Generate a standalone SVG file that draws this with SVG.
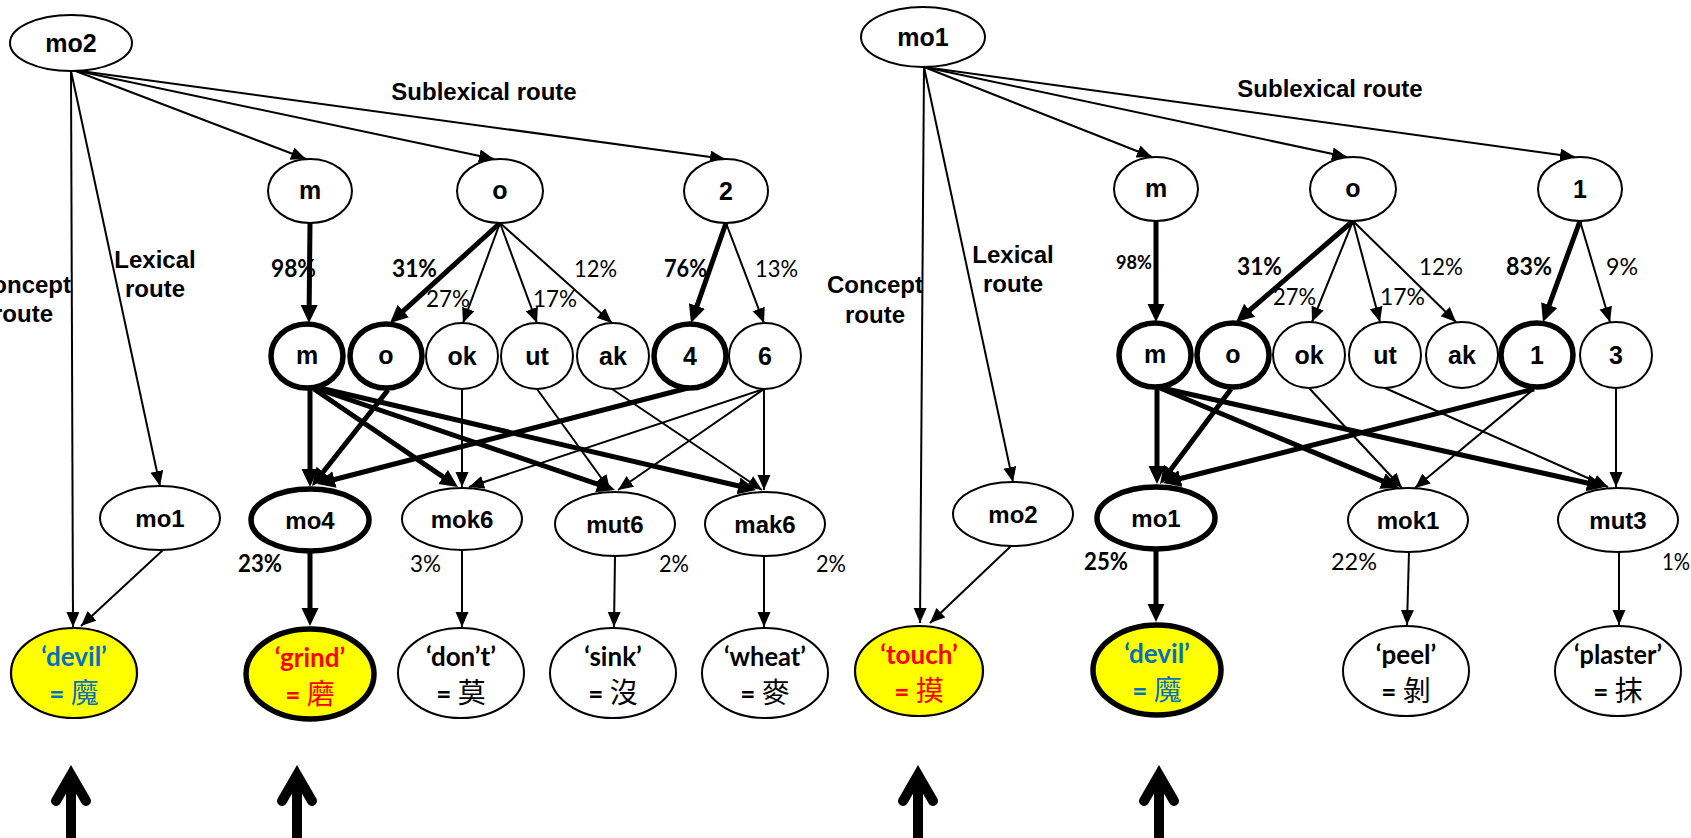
<svg xmlns="http://www.w3.org/2000/svg" width="1691" height="838" viewBox="0 0 1691 838">
<style>
.n{fill:#fff;stroke:#000;stroke-width:2}
.nt{fill:#fff;stroke:#000;stroke-width:5.5}
.y{fill:#ffff00;stroke:#000;stroke-width:2.2}
.yt{fill:#ffff00;stroke:#000;stroke-width:5.5}
.lb{font-family:"Liberation Sans",Arial,sans-serif;font-weight:bold;font-size:25px;text-anchor:middle;fill:#000}
.lb3{font-size:24px}
.rl{font-family:"Liberation Sans",Arial,sans-serif;font-weight:bold;font-size:24px;text-anchor:middle;fill:#000}
.p{font-family:Lato,"Open Sans",sans-serif;font-size:24px;fill:#000}
.pb{font-family:Lato,"Open Sans",sans-serif;font-size:24px;font-weight:bold;fill:#000}
.w{font-family:Lato,"Noto Sans CJK TC",sans-serif;font-weight:bold;font-size:26px;text-anchor:middle;fill:#000}
.c{font-family:"Noto Sans CJK TC",sans-serif;font-size:28px;font-weight:normal}
.blue{fill:#0070C0}
.red{fill:#FF0000}
.thin{stroke:#000;stroke-width:2;fill:none;marker-end:url(#a)}
.thick{stroke:#000;stroke-width:5;fill:none;marker-end:url(#b)}
.big{stroke:#000;stroke-width:10;fill:none;stroke-linecap:round;stroke-linejoin:miter}
</style>
<defs>
<marker id="a" markerUnits="userSpaceOnUse" markerWidth="16" markerHeight="14" refX="15" refY="6.5" orient="auto">
<path d="M0,0 L15,6.5 L0,13 z" fill="#000"/>
</marker>
<marker id="b" markerUnits="userSpaceOnUse" markerWidth="19" markerHeight="18" refX="8" refY="8.5" orient="auto">
<path d="M0,0 L18,8.5 L0,17 z" fill="#000"/>
</marker>
</defs>
<rect width="1691" height="838" fill="#fff"/>

<g id="connectors">
<!-- left panel -->
<path class="thin" d="M73,70 L306,159"/>
<path class="thin" d="M73,70 L494,159"/>
<path class="thin" d="M73,70 L725,159"/>
<path class="thin" d="M71,71 L73,627"/>
<path class="thin" d="M71,71 L160,486"/>
<path class="thick" d="M310,223 L309.1,313"/>
<path class="thick" d="M500,223 L397.4,316.3"/>
<path class="thin" d="M500,223 L463,323"/>
<path class="thin" d="M500,223 L537,323"/>
<path class="thin" d="M500,223 L612,323"/>
<path class="thick" d="M726,223 L694.3,313.6"/>
<path class="thin" d="M726,223 L764,323"/>
<path class="thick" d="M310,389 L310,477"/>
<path class="thick" d="M314,389 L449.7,481.4"/>
<path class="thick" d="M318,389 L605.5,486.8"/>
<path class="thick" d="M320,388 L746.3,487.7"/>
<path class="thick" d="M388,390 L318.2,478.2"/>
<path class="thin" d="M462,389 L462,487"/>
<path class="thin" d="M537,389 L610,490"/>
<path class="thin" d="M612,389 L762,490"/>
<path class="thick" d="M688,388 L326.7,481.5"/>
<path class="thin" d="M764,389 L469,487"/>
<path class="thin" d="M764,389 L618,490"/>
<path class="thin" d="M764,389 L764,490"/>
<path class="thin" d="M163,550 L81,626"/>
<path class="thick" d="M310,553 L310,616"/>
<path class="thin" d="M462,550 L462,627"/>
<path class="thin" d="M615,556 L614,627"/>
<path class="thin" d="M764,556 L764,627"/>
<!-- right panel -->
<path class="thin" d="M924,67 L1152,157"/>
<path class="thin" d="M924,67 L1347,157"/>
<path class="thin" d="M924,67 L1575,157"/>
<path class="thin" d="M924,67 L920,623"/>
<path class="thin" d="M924,67 L1013,482"/>
<path class="thick" d="M1156,221 L1156,312"/>
<path class="thick" d="M1353,221 L1243.6,315.5"/>
<path class="thin" d="M1353,221 L1312,322"/>
<path class="thin" d="M1353,221 L1380,322"/>
<path class="thin" d="M1353,221 L1456,322"/>
<path class="thick" d="M1580,221 L1546.4,312.6"/>
<path class="thin" d="M1580,221 L1610,322"/>
<path class="thick" d="M1157,388 L1157,474"/>
<path class="thick" d="M1160,388 L1389.8,484.1"/>
<path class="thick" d="M1162,388 L1595.2,484.8"/>
<path class="thick" d="M1231,389 L1166,476"/>
<path class="thin" d="M1309,388 L1402,488"/>
<path class="thin" d="M1385,388 L1608,487"/>
<path class="thick" d="M1534,389 L1172.7,480.5"/>
<path class="thin" d="M1534,389 L1415,488"/>
<path class="thin" d="M1616,388 L1616,487"/>
<path class="thin" d="M1011,546 L930,623"/>
<path class="thick" d="M1156,551 L1156,612"/>
<path class="thin" d="M1409,552 L1407,625"/>
<path class="thin" d="M1619,552 L1619,625"/>
</g>

<g id="labels">
<text class="rl" x="484" y="100">Sublexical route</text>
<text class="rl" x="155" y="268">Lexical</text>
<text class="rl" x="155" y="297">route</text>
<text class="rl" x="23" y="293">Concept</text>
<text class="rl" x="23" y="322">route</text>
<text class="rl" x="1330" y="97">Sublexical route</text>
<text class="rl" x="1013" y="263">Lexical</text>
<text class="rl" x="1013" y="292">route</text>
<text class="rl" x="875" y="293">Concept</text>
<text class="rl" x="875" y="323">route</text>
<text class="pb" x="271" y="277" textLength="45" lengthAdjust="spacingAndGlyphs">98%</text>
<text class="pb" x="392" y="277" textLength="45" lengthAdjust="spacingAndGlyphs">31%</text>
<text class="p" x="426" y="307" textLength="44" lengthAdjust="spacingAndGlyphs">27%</text>
<text class="p" x="533" y="307" textLength="44" lengthAdjust="spacingAndGlyphs">17%</text>
<text class="p" x="574" y="277" textLength="43" lengthAdjust="spacingAndGlyphs">12%</text>
<text class="pb" x="664" y="277" textLength="43" lengthAdjust="spacingAndGlyphs">76%</text>
<text class="p" x="755" y="277" textLength="43" lengthAdjust="spacingAndGlyphs">13%</text>
<text class="pb" x="238" y="572" textLength="44" lengthAdjust="spacingAndGlyphs">23%</text>
<text class="p" x="410" y="572" textLength="31" lengthAdjust="spacingAndGlyphs">3%</text>
<text class="p" x="659" y="572" textLength="30" lengthAdjust="spacingAndGlyphs">2%</text>
<text class="p" x="816" y="572" textLength="30" lengthAdjust="spacingAndGlyphs">2%</text>
<text class="pb" x="1116" y="269" style="font-size:19px" textLength="36" lengthAdjust="spacingAndGlyphs">98%</text>
<text class="pb" x="1237" y="275" textLength="45" lengthAdjust="spacingAndGlyphs">31%</text>
<text class="p" x="1273" y="305" textLength="43" lengthAdjust="spacingAndGlyphs">27%</text>
<text class="p" x="1380" y="305" textLength="45" lengthAdjust="spacingAndGlyphs">17%</text>
<text class="p" x="1419" y="275" textLength="44" lengthAdjust="spacingAndGlyphs">12%</text>
<text class="pb" x="1506" y="275" textLength="46" lengthAdjust="spacingAndGlyphs">83%</text>
<text class="p" x="1606" y="275" textLength="32" lengthAdjust="spacingAndGlyphs">9%</text>
<text class="pb" x="1084" y="570" textLength="44" lengthAdjust="spacingAndGlyphs">25%</text>
<text class="p" x="1331" y="570" textLength="46" lengthAdjust="spacingAndGlyphs">22%</text>
<text class="p" x="1662" y="570" textLength="28" lengthAdjust="spacingAndGlyphs">1%</text>
</g>

<!-- left panel nodes -->
<g id="L_mo2"><ellipse class="n" cx="71" cy="43" rx="61" ry="28"/><text class="lb" x="71" y="52">mo2</text></g>
<g id="L_m"><ellipse class="n" cx="310" cy="191" rx="42" ry="32"/><text class="lb" x="310" y="199">m</text></g>
<g id="L_o"><ellipse class="n" cx="500" cy="191" rx="43" ry="32"/><text class="lb" x="500" y="199">o</text></g>
<g id="L_2"><ellipse class="n" cx="726" cy="191" rx="42" ry="32"/><text class="lb" x="726" y="200">2</text></g>
<g id="L_m2"><ellipse class="nt" cx="307" cy="356" rx="36" ry="32"/><text class="lb" x="307" y="364">m</text></g>
<g id="L_o2"><ellipse class="nt" cx="386" cy="356" rx="36" ry="32"/><text class="lb" x="386" y="364">o</text></g>
<g id="L_ok"><ellipse class="n" cx="462" cy="356" rx="36" ry="33"/><text class="lb" x="462" y="365">ok</text></g>
<g id="L_ut"><ellipse class="n" cx="537" cy="356" rx="36" ry="33"/><text class="lb" x="537" y="365">ut</text></g>
<g id="L_ak"><ellipse class="n" cx="613" cy="356" rx="36" ry="33"/><text class="lb" x="613" y="365">ak</text></g>
<g id="L_4"><ellipse class="nt" cx="690" cy="356" rx="36" ry="32"/><text class="lb" x="690" y="365">4</text></g>
<g id="L_6"><ellipse class="n" cx="765" cy="356" rx="36" ry="33"/><text class="lb" x="765" y="365">6</text></g>
<g id="L_mo1"><ellipse class="n" cx="160" cy="518" rx="60" ry="32"/><text class="lb lb3" x="160" y="527">mo1</text></g>
<g id="L_mo4"><ellipse class="nt" cx="310" cy="520" rx="59" ry="31"/><text class="lb lb3" x="310" y="529">mo4</text></g>
<g id="L_mok6"><ellipse class="n" cx="462" cy="519" rx="60" ry="31"/><text class="lb lb3" x="462" y="528">mok6</text></g>
<g id="L_mut6"><ellipse class="n" cx="615" cy="524" rx="60" ry="32"/><text class="lb lb3" x="615" y="533">mut6</text></g>
<g id="L_mak6"><ellipse class="n" cx="765" cy="524" rx="60" ry="32"/><text class="lb lb3" x="765" y="533">mak6</text></g>
<g id="L_devil"><ellipse class="y" cx="74" cy="673" rx="63" ry="45"/><text class="w blue" x="74" y="666">‘devil’</text><text class="w blue" x="74" y="703">= <tspan class="c">魔</tspan></text></g>
<g id="L_grind"><ellipse class="yt" cx="310" cy="674" rx="64" ry="45"/><text class="w red" x="310" y="667">‘grind’</text><text class="w red" x="310" y="704">= <tspan class="c">磨</tspan></text></g>
<g id="L_dont"><ellipse class="n" cx="461" cy="673" rx="63" ry="45"/><text class="w" x="461" y="666">‘don’t’</text><text class="w" x="461" y="703">= <tspan class="c">莫</tspan></text></g>
<g id="L_sink"><ellipse class="n" cx="613" cy="673" rx="63" ry="45"/><text class="w" x="613" y="666">‘sink’</text><text class="w" x="613" y="703">= <tspan class="c">沒</tspan></text></g>
<g id="L_wheat"><ellipse class="n" cx="765" cy="673" rx="63" ry="45"/><text class="w" x="765" y="666" textLength="82" lengthAdjust="spacingAndGlyphs">‘wheat’</text><text class="w" x="765" y="703">= <tspan class="c">麥</tspan></text></g>

<!-- right panel nodes -->
<g id="R_mo1"><ellipse class="n" cx="923" cy="37" rx="62" ry="30"/><text class="lb" x="923" y="46">mo1</text></g>
<g id="R_m"><ellipse class="n" cx="1156" cy="189" rx="42" ry="32"/><text class="lb" x="1156" y="197">m</text></g>
<g id="R_o"><ellipse class="n" cx="1353" cy="189" rx="43" ry="32"/><text class="lb" x="1353" y="197">o</text></g>
<g id="R_1"><ellipse class="n" cx="1580" cy="189" rx="42" ry="32"/><text class="lb" x="1580" y="198">1</text></g>
<g id="R_m2"><ellipse class="nt" cx="1155" cy="355" rx="36" ry="32"/><text class="lb" x="1155" y="363">m</text></g>
<g id="R_o2"><ellipse class="nt" cx="1233" cy="355" rx="36" ry="32"/><text class="lb" x="1233" y="363">o</text></g>
<g id="R_ok"><ellipse class="n" cx="1309" cy="355" rx="36" ry="33"/><text class="lb" x="1309" y="364">ok</text></g>
<g id="R_ut"><ellipse class="n" cx="1385" cy="355" rx="36" ry="33"/><text class="lb" x="1385" y="364">ut</text></g>
<g id="R_ak"><ellipse class="n" cx="1462" cy="355" rx="36" ry="33"/><text class="lb" x="1462" y="364">ak</text></g>
<g id="R_1b"><ellipse class="nt" cx="1537" cy="355" rx="36" ry="32"/><text class="lb" x="1537" y="364">1</text></g>
<g id="R_3"><ellipse class="n" cx="1616" cy="355" rx="36" ry="33"/><text class="lb" x="1616" y="364">3</text></g>
<g id="R_mo2"><ellipse class="n" cx="1013" cy="514" rx="60" ry="32"/><text class="lb lb3" x="1013" y="523">mo2</text></g>
<g id="R_mo1b"><ellipse class="nt" cx="1156" cy="518" rx="59" ry="31"/><text class="lb lb3" x="1156" y="527">mo1</text></g>
<g id="R_mok1"><ellipse class="n" cx="1408" cy="520" rx="60" ry="32"/><text class="lb lb3" x="1408" y="529">mok1</text></g>
<g id="R_mut3"><ellipse class="n" cx="1618" cy="520" rx="60" ry="32"/><text class="lb lb3" x="1618" y="529">mut3</text></g>
<g id="R_touch"><ellipse class="y" cx="919" cy="671" rx="64" ry="45"/><text class="w red" x="919" y="664">‘touch’</text><text class="w red" x="919" y="701">= <tspan class="c">摸</tspan></text></g>
<g id="R_devil"><ellipse class="yt" cx="1157" cy="670" rx="64" ry="45"/><text class="w blue" x="1157" y="663">‘devil’</text><text class="w blue" x="1157" y="700">= <tspan class="c">魔</tspan></text></g>
<g id="R_peel"><ellipse class="n" cx="1406" cy="671" rx="63" ry="45"/><text class="w" x="1406" y="664">‘peel’</text><text class="w" x="1406" y="701">= <tspan class="c">剝</tspan></text></g>
<g id="R_plaster"><ellipse class="n" cx="1618" cy="671" rx="63" ry="45"/><text class="w" x="1618" y="664" textLength="88" lengthAdjust="spacingAndGlyphs">‘plaster’</text><text class="w" x="1618" y="701">= <tspan class="c">抹</tspan></text></g>

<g id="bigarrows">
<path class="big" d="M71,838 V778 M56,801 L71,775 L86,801"/>
<path class="big" d="M297,838 V778 M282,801 L297,775 L312,801"/>
<path class="big" d="M918,838 V778 M903,801 L918,775 L933,801"/>
<path class="big" d="M1159,838 V778 M1144,801 L1159,775 L1174,801"/>
</g>
</svg>
